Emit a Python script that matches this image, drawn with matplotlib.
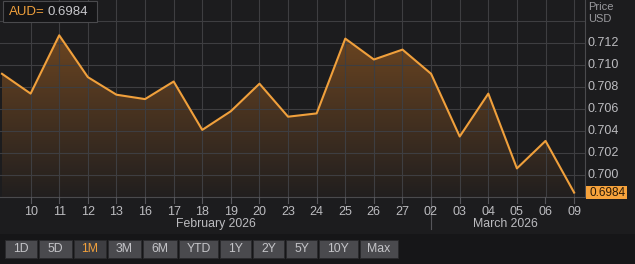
import numpy as np
import matplotlib
matplotlib.use("Agg")
import matplotlib.pyplot as plt
from matplotlib.patches import Rectangle

plt.rcParams['font.family'] = ['Liberation Sans', 'DejaVu Sans']

# data (AUD= daily closes)
day_labels = ['', '10', '11', '12', '13', '16', '17', '18', '19', '20', '23', '24',
              '25', '26', '27', '02', '03', '04', '05', '06', '09']
prices = [0.7092, 0.7074, 0.7127, 0.7089, 0.7073, 0.7069, 0.7085, 0.7041, 0.7058,
          0.7083, 0.7053, 0.7056, 0.7124, 0.7105, 0.7114, 0.7092, 0.7035, 0.7074,
          0.7006, 0.7031, 0.6984]
y_ticks = [0.700, 0.702, 0.704, 0.706, 0.708, 0.710, 0.712]
months = ['February 2026', 'March 2026']
buttons = ['1D', '5D', '1M', '3M', '6M', 'YTD', '1Y', '2Y', '5Y', '10Y', 'Max']
last = prices[-1]

W, H = 635, 264
bg = '#1c1c1e'
grid_c = '#3e3e41'
line_c = '#f0a03c'
txt_c = '#bcbcc0'

fig = plt.figure(figsize=(W / 100, H / 100), dpi=100, facecolor=bg)

# main chart
ax = fig.add_axes([0, (H - 197) / H, 585 / W, 197 / H])
ax.set_facecolor(bg)
x = np.arange(len(prices))
ax.set_xlim(-0.07, 20.38)
ax.set_ylim(0.698, 0.71591)

# gradient fill under the line
verts = [(x[0], 0.698)] + list(zip(x, prices)) + [(x[-1], 0.698)]
poly = plt.Polygon(verts, closed=True, facecolor='none', edgecolor='none')
ax.add_patch(poly)
grad = np.linspace(1, 0, 256).reshape(-1, 1)
top = np.array([0.42, 0.27, 0.13])
bot = np.array([0.13, 0.12, 0.12])
img = bot + (top - bot) * grad[..., None]
im = ax.imshow(img, extent=[-0.07, 20.38, 0.698, 0.7128], aspect='auto',
               origin='upper', zorder=1)
im.set_clip_path(poly)

ax.plot(x, prices, color=line_c, lw=1.5, zorder=3)

ax.set_xticks(x[1:])
ax.set_yticks([0.698] + y_ticks + [0.714])
ax.grid(True, color=grid_c, lw=0.8, zorder=2)
for gl in ax.get_xgridlines() + ax.get_ygridlines():
    gl.set_zorder(2)
ax.tick_params(left=False, right=False, bottom=False, labelleft=False,
               labelbottom=False)
for s in ['top', 'left']:
    ax.spines[s].set_visible(False)
ax.spines['right'].set_color('#4a4a4d')
ax.spines['bottom'].set_color('#4a4a4d')

# overlay axes in pixel coordinates for labels and buttons
ov = fig.add_axes([0, 0, 1, 1], facecolor='none')
ov.set_xlim(0, W)
ov.set_ylim(H, 0)
ov.axis('off')

def px(i):
    return 2 + 28.6 * i

def py(v):
    return 43 + (0.712 - v) * 11000

for i, lab in enumerate(day_labels):
    if not lab:
        continue
    ov.plot([px(i), px(i)], [197, 203], color='#55555a', lw=0.8)
    ov.text(px(i), 212, lab, color=txt_c, fontsize=9, ha='center', va='center')

# month separator and names
ov.plot([px(15), px(15)], [197, 229], color='#55555a', lw=0.8)
ov.text(216, 224, months[0], color=txt_c, fontsize=8.8, ha='center', va='center')
ov.text(505, 224, months[1], color=txt_c, fontsize=8.8, ha='center', va='center')

# y labels on the right
for v in y_ticks:
    ov.text(588, py(v), f'{v:.3f}', color=txt_c, fontsize=9, ha='left', va='center')
ov.text(588, 7, 'Price', color='#9a9a9e', fontsize=8, ha='left', va='center')
ov.text(588, 19, 'USD', color='#9a9a9e', fontsize=8, ha='left', va='center')

# last price tag
ov.add_patch(Rectangle((586, 186), 41, 13, facecolor='#f7a33c', edgecolor='none'))
ov.text(589, 192.5, f'{last:.4f}', color='#2a1a08', fontsize=8.5, ha='left', va='center')

# top-left instrument box
ov.add_patch(Rectangle((3, 1), 94, 21, facecolor='#151517', edgecolor='#4a4a4d', lw=0.8))
ov.text(9, 12, 'AUD=', color=line_c, fontsize=9.5, ha='left', va='center')
ov.text(48, 12, f'{last:.4f}', color='#c8c8cc', fontsize=9.5, ha='left', va='center')

# button strip
ov.add_patch(Rectangle((0, 234), W, 30, facecolor='#161618', edgecolor='none'))
edges = [(5, 37), (39, 72), (74, 106), (108, 141), (143, 177), (179, 218),
         (220, 251), (253, 284), (286, 317), (319, 358), (360, 398)]
for b, (x0, x1) in zip(buttons, edges):
    sel = b == '1M'
    ov.add_patch(Rectangle((x0, 240), x1 - x0, 18,
                           facecolor='#3e3e42' if sel else '#4a4a4e',
                           edgecolor='#2a2a2c', lw=0.6))
    ov.text((x0 + x1) / 2, 249, b, color='#f0a03c' if sel else '#c4c4c8',
            fontsize=8.8, ha='center', va='center')

fig.savefig('out.png', dpi=100, facecolor=bg)
